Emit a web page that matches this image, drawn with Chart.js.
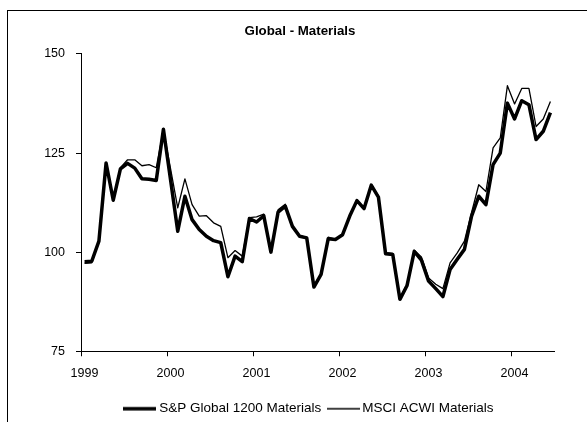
<!DOCTYPE html>
<html>
<head>
<meta charset="utf-8">
<script src="https://cdn.jsdelivr.net/npm/chart.js@4.4.1/dist/chart.umd.min.js"></script>
<style>
  html, body { margin: 0; padding: 0; background: #fff; }
  #wrap { position: relative; width: 587px; height: 422px; overflow: hidden; background: #fff; }
  #frame { position: absolute; left: 7px; top: 10px; width: 700px; height: 600px;
           border-top: 1px solid #000; border-left: 1px solid #000; }
  canvas { position: absolute; left: 0; top: 0; }
</style>
</head>
<body>
<div id="wrap">
  <div id="frame"></div>
  <canvas id="c" width="587" height="422"></canvas>
</div>
<script>
// ---- Data (monthly, Jan 1999 – Jun 2004) ----
const months = [
  "1999-01","1999-02","1999-03","1999-04","1999-05","1999-06","1999-07","1999-08","1999-09","1999-10","1999-11","1999-12",
  "2000-01","2000-02","2000-03","2000-04","2000-05","2000-06","2000-07","2000-08","2000-09","2000-10","2000-11","2000-12",
  "2001-01","2001-02","2001-03","2001-04","2001-05","2001-06","2001-07","2001-08","2001-09","2001-10","2001-11","2001-12",
  "2002-01","2002-02","2002-03","2002-04","2002-05","2002-06","2002-07","2002-08","2002-09","2002-10","2002-11","2002-12",
  "2003-01","2003-02","2003-03","2003-04","2003-05","2003-06","2003-07","2003-08","2003-09","2003-10","2003-11","2003-12",
  "2004-01","2004-02","2004-03","2004-04","2004-05","2004-06"
];
const spGlobal1200Materials = [
  97.6, 97.7, 102.8, 122.5, 113.1, 121.0, 122.4, 121.2, 118.5, 118.4, 118.1, 131.0,
  118.2, 105.3, 114.1, 108.2, 105.7, 104.0, 102.9, 102.4, 93.8, 99.0, 97.6, 108.5,
  107.6, 109.2, 100.0, 110.1, 111.6, 106.5, 104.0, 103.6, 91.2, 94.4, 103.4, 103.2,
  104.4, 109.1, 113.0, 111.0, 116.9, 113.9, 99.6, 99.4, 88.1, 91.6, 100.2, 98.0,
  92.7, 90.8, 88.8, 95.6, 98.2, 100.7, 109.1, 114.1, 112.0, 122.1, 125.0, 137.6,
  133.6, 138.2, 137.2, 128.4, 130.5, 135.2
];
const msciAcwiMaterials = [
  97.2, 97.3, 102.6, 122.3, 113.0, 121.3, 123.3, 123.3, 121.8, 122.1, 121.3, 130.8,
  121.0, 111.2, 118.5, 112.0, 109.1, 109.2, 107.4, 106.5, 98.6, 100.4, 99.0, 108.7,
  108.9, 109.6, 100.2, 110.7, 112.1, 106.7, 104.2, 103.7, 91.4, 94.6, 103.8, 103.2,
  104.6, 109.3, 113.2, 111.2, 117.0, 114.2, 99.9, 99.7, 88.4, 92.0, 100.5, 98.8,
  93.5, 91.9, 90.8, 97.3, 99.8, 102.8, 110.0, 117.0, 115.3, 126.3, 128.8, 142.0,
  137.4, 141.3, 141.3, 131.7, 133.6, 138.0
];
const yearLabels = ["1999","2000","2001","2002","2003","2004"];
const yTicks = [75, 100, 125, 150];
const seriesNames = ["S&P Global 1200 Materials", "MSCI ACWI Materials"];

// month string -> position on a month axis (mid-month), Jan 1999 = 0
function monthPos(s) {
  const [y, m] = s.split("-").map(Number);
  return (y - 1999) * 12 + (m - 1) + 0.5;
}
function yearPos(y) { return (Number(y) - 1999) * 12; }
const toPoints = vals => vals.map((v, i) => ({ x: monthPos(months[i]), y: v }));

const FONT = "'Liberation Sans', Arial, sans-serif";
const widths = [3.5, 1.3];

// legend line samples (drawn by the legend as point-style images)
function lineSample(w) {
  const c = document.createElement("canvas");
  c.width = 33; c.height = 6;
  const g = c.getContext("2d");
  g.strokeStyle = "#000"; g.lineWidth = w;
  g.beginPath(); g.moveTo(0, 3); g.lineTo(33, 3); g.stroke();
  return c;
}
const samples = widths.map(lineSample);

// nudge the legend row slightly left, as in the original layout
const legendShift = {
  id: "legendShift",
  afterLayout(chart) {
    if (chart.legend) { chart.legend.left -= 7; chart.legend.right -= 7; }
  }
};

new Chart(document.getElementById("c"), {
  type: "line",
  data: {
    datasets: [
      { label: seriesNames[0], data: toPoints(spGlobal1200Materials),
        borderColor: "#000", backgroundColor: "#000", borderWidth: widths[0] },
      { label: seriesNames[1], data: toPoints(msciAcwiMaterials),
        borderColor: "#000", backgroundColor: "#000", borderWidth: widths[1] }
    ]
  },
  plugins: [legendShift],
  options: {
    responsive: false,
    maintainAspectRatio: false,
    devicePixelRatio: 1,
    animation: false,
    events: [],
    elements: {
      point: { radius: 0 },
      line: { tension: 0, borderJoinStyle: "round", borderCapStyle: "butt", fill: false }
    },
    layout: { padding: { left: 20, right: 7, top: 0, bottom: -3.5 } },
    plugins: {
      title: {
        display: true, text: "Global - Materials", color: "#000",
        font: { family: FONT, size: 13.3, weight: "bold", lineHeight: 1.2 },
        padding: { top: 23, bottom: 15 }
      },
      legend: {
        display: true, position: "bottom", fullSize: false,
        labels: {
          color: "#000", font: { family: FONT, size: 13.5 },
          usePointStyle: true, pointStyleWidth: 25, boxWidth: 25,
          padding: 9.25,
          generateLabels: chart => {
            const items = Chart.defaults.plugins.legend.labels.generateLabels(chart);
            items.forEach((it, i) => { it.pointStyle = samples[i]; });
            return items;
          }
        }
      },
      tooltip: { enabled: false }
    },
    scales: {
      x: {
        type: "linear", position: "bottom", min: 0, max: 66,
        afterBuildTicks: a => { a.ticks = yearLabels.map(y => ({ value: yearPos(y) })); },
        afterFit: s => { s.height = 41.5; },
        ticks: {
          autoSkip: false, maxRotation: 0, color: "#000", padding: 9.5, labelOffset: 3.5,
          font: { family: FONT, size: 12.5 },
          callback: v => yearLabels[Math.round(v / 12)]
        },
        grid: { display: true, drawOnChartArea: false, drawTicks: true, tickLength: 5, color: "#000" },
        border: { display: true, color: "#000", width: 1 }
      },
      y: {
        min: 75, max: 150,
        afterBuildTicks: a => { a.ticks = yTicks.map(v => ({ value: v })); },
        afterFit: s => { s.width = 61; },
        ticks: { color: "#000", padding: 11, font: { family: FONT, size: 12.5 } },
        grid: { display: true, drawOnChartArea: false, drawTicks: true, tickLength: 5, color: "#000" },
        border: { display: true, color: "#000", width: 1 }
      },
      yR: {
        position: "right", display: true,
        afterFit: s => { s.width = 26; },
        ticks: { display: false },
        grid: { display: false },
        border: { display: false }
      }
    }
  }
});
</script>
</body>
</html>
